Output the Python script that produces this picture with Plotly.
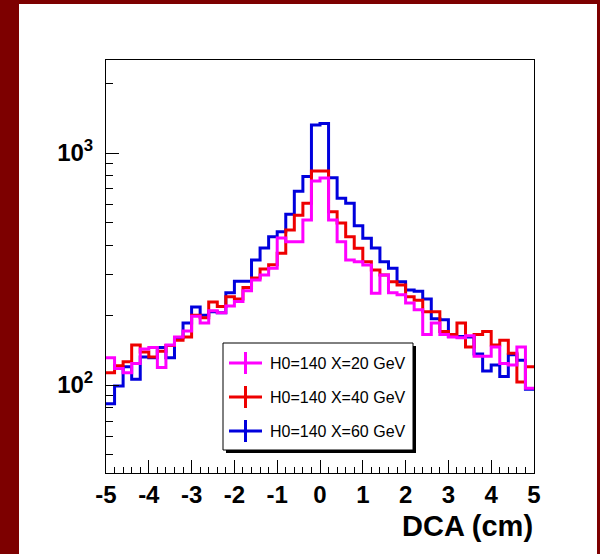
import numpy as np
import plotly.graph_objects as go

# ---- data ----
bin_edges = np.round(np.linspace(-5, 5, 51), 2)

counts_20 = [131, 118, 113, 124, 143, 145, 119, 149, 161, 171,
             198, 185, 209, 205, 219, 229, 255, 284, 298, 319,
             430, 415, 415, 514, 757, 780, 514, 415, 346, 340,
             329, 249, 298, 250, 245, 226, 211, 165, 185, 165,
             161, 160, 163, 133, 133, 146, 124, 122, 146, 97]
counts_40 = [113, 121, 126, 149, 139, 132, 140, 148, 156, 161,
             200, 195, 228, 218, 240, 235, 263, 289, 316, 330,
             370, 466, 540, 607, 836, 836, 558, 500, 436, 389,
             340, 313, 298, 279, 270, 240, 232, 207, 207, 170,
             165, 185, 146, 165, 170, 149, 156, 137, 103, 120]
counts_60 = [83, 99, 120, 106, 132, 131, 145, 131, 160, 185,
             217, 200, 207, 205, 250, 280, 280, 346, 390, 436,
             458, 545, 685, 793, 1320, 1340, 783, 638, 607, 486,
             429, 390, 340, 319, 279, 257, 254, 235, 193, 191,
             162, 162, 161, 136, 115, 122, 109, 135, 128, 96]

series_names = ["H0=140 X=20 GeV", "H0=140 X=40 GeV", "H0=140 X=60 GeV"]
series_counts = [counts_20, counts_40, counts_60]
series_colors = ["#ff00ff", "#ee0000", "#0000dd"]

x_tickvals = [-5, -4, -3, -2, -1, 0, 1, 2, 3, 4, 5]
x_ticktext = ["-5", "-4", "-3", "-2", "-1", "0", "1", "2", "3", "4", "5"]
y_tickvals = [100, 1000]
y_ticktext = ["10<sup>2</sup>", "10<sup>3</sup>"]

# ---- geometry ----
W, H = 600, 554
L, R, T, B = 106, 66, 60, 81
PW, PH = W - L - R, H - T - B


def px(x):
    return (x - L) / PW


def py(y):
    return (H - B - y) / PH


fig = go.Figure()

# draw order: blue, red, magenta
for i in [2, 1, 0]:
    c = series_counts[i]
    fig.add_trace(go.Scatter(
        x=list(bin_edges), y=list(c) + [c[-1]],
        mode="lines", line=dict(color=series_colors[i], width=3, shape="hv"),
        name=series_names[i], showlegend=False, hoverinfo="skip"))

minor_y = [50, 60, 70, 80, 90, 200, 300, 400, 500, 600, 700, 800, 900, 2000]

shapes = [
    dict(type="rect", xref="paper", yref="paper", x0=px(19), x1=px(597),
         y0=py(H + 5), y1=py(4), fillcolor="white", line=dict(width=0), layer="below"),
    # legend shadow and box
    dict(type="rect", xref="paper", yref="paper", x0=px(226), x1=px(416),
         y0=py(453), y1=py(346), fillcolor="black", line=dict(width=0)),
    dict(type="rect", xref="paper", yref="paper", x0=px(223), x1=px(413),
         y0=py(450), y1=py(343), fillcolor="white", line=dict(color="black", width=1)),
]
annotations = []
rows = [363, 397, 431]
for i, yrow in enumerate(rows):
    col = series_colors[i]
    shapes.append(dict(type="line", xref="paper", yref="paper",
                       x0=px(229), x1=px(262), y0=py(yrow), y1=py(yrow),
                       line=dict(color=col, width=3)))
    shapes.append(dict(type="line", xref="paper", yref="paper",
                       x0=px(245.5), x1=px(245.5), y0=py(yrow - 11), y1=py(yrow + 11),
                       line=dict(color=col, width=3)))
    annotations.append(dict(xref="paper", yref="paper", x=px(268), y=py(yrow),
                            xanchor="left", yanchor="middle", showarrow=False,
                            text=series_names[i],
                            font=dict(family="Liberation Sans, Arial", size=16, color="black")))

annotations.append(dict(xref="paper", yref="paper", x=px(535), y=py(526),
                        xanchor="right", yanchor="middle", showarrow=False,
                        text="<b>DCA (cm)</b>",
                        font=dict(family="Liberation Sans, Arial", size=29, color="black")))

fig.update_layout(
    width=W, height=H,
    margin=dict(l=L, r=R, t=T, b=B, pad=0, autoexpand=False),
    paper_bgcolor="#7d0000", plot_bgcolor="white",
    showlegend=False,
    shapes=shapes, annotations=annotations,
    xaxis=dict(range=[-5, 5], showgrid=False, zeroline=False,
               showline=True, linecolor="black", linewidth=1, mirror=True,
               ticks="inside", ticklen=13, tickwidth=1, tickcolor="black",
               tickmode="array", tickvals=x_tickvals, ticktext=x_ticktext,
               tickfont=dict(family="Liberation Sans, Arial", size=24, color="black", weight="bold"),
               minor=dict(tickmode="linear", tick0=-5, dtick=0.2, ticks="inside",
                          ticklen=6, tickwidth=1, tickcolor="black", showgrid=False),
               automargin=False),
    yaxis=dict(type="log", range=[1.621, 3.401], showgrid=False, zeroline=False,
               showline=True, linecolor="black", linewidth=1, mirror=True,
               ticks="inside", ticklen=13, tickwidth=1, tickcolor="black",
               tickmode="array", tickvals=y_tickvals, ticktext=y_ticktext,
               ticklabelstandoff=7,
               tickfont=dict(family="Liberation Sans, Arial", size=24, color="black", weight="bold"),
               minor=dict(tickmode="array", tickvals=minor_y, ticks="inside",
                          ticklen=7, tickwidth=1, tickcolor="black", showgrid=False),
               automargin=False),
)

fig.write_html("out.html")
